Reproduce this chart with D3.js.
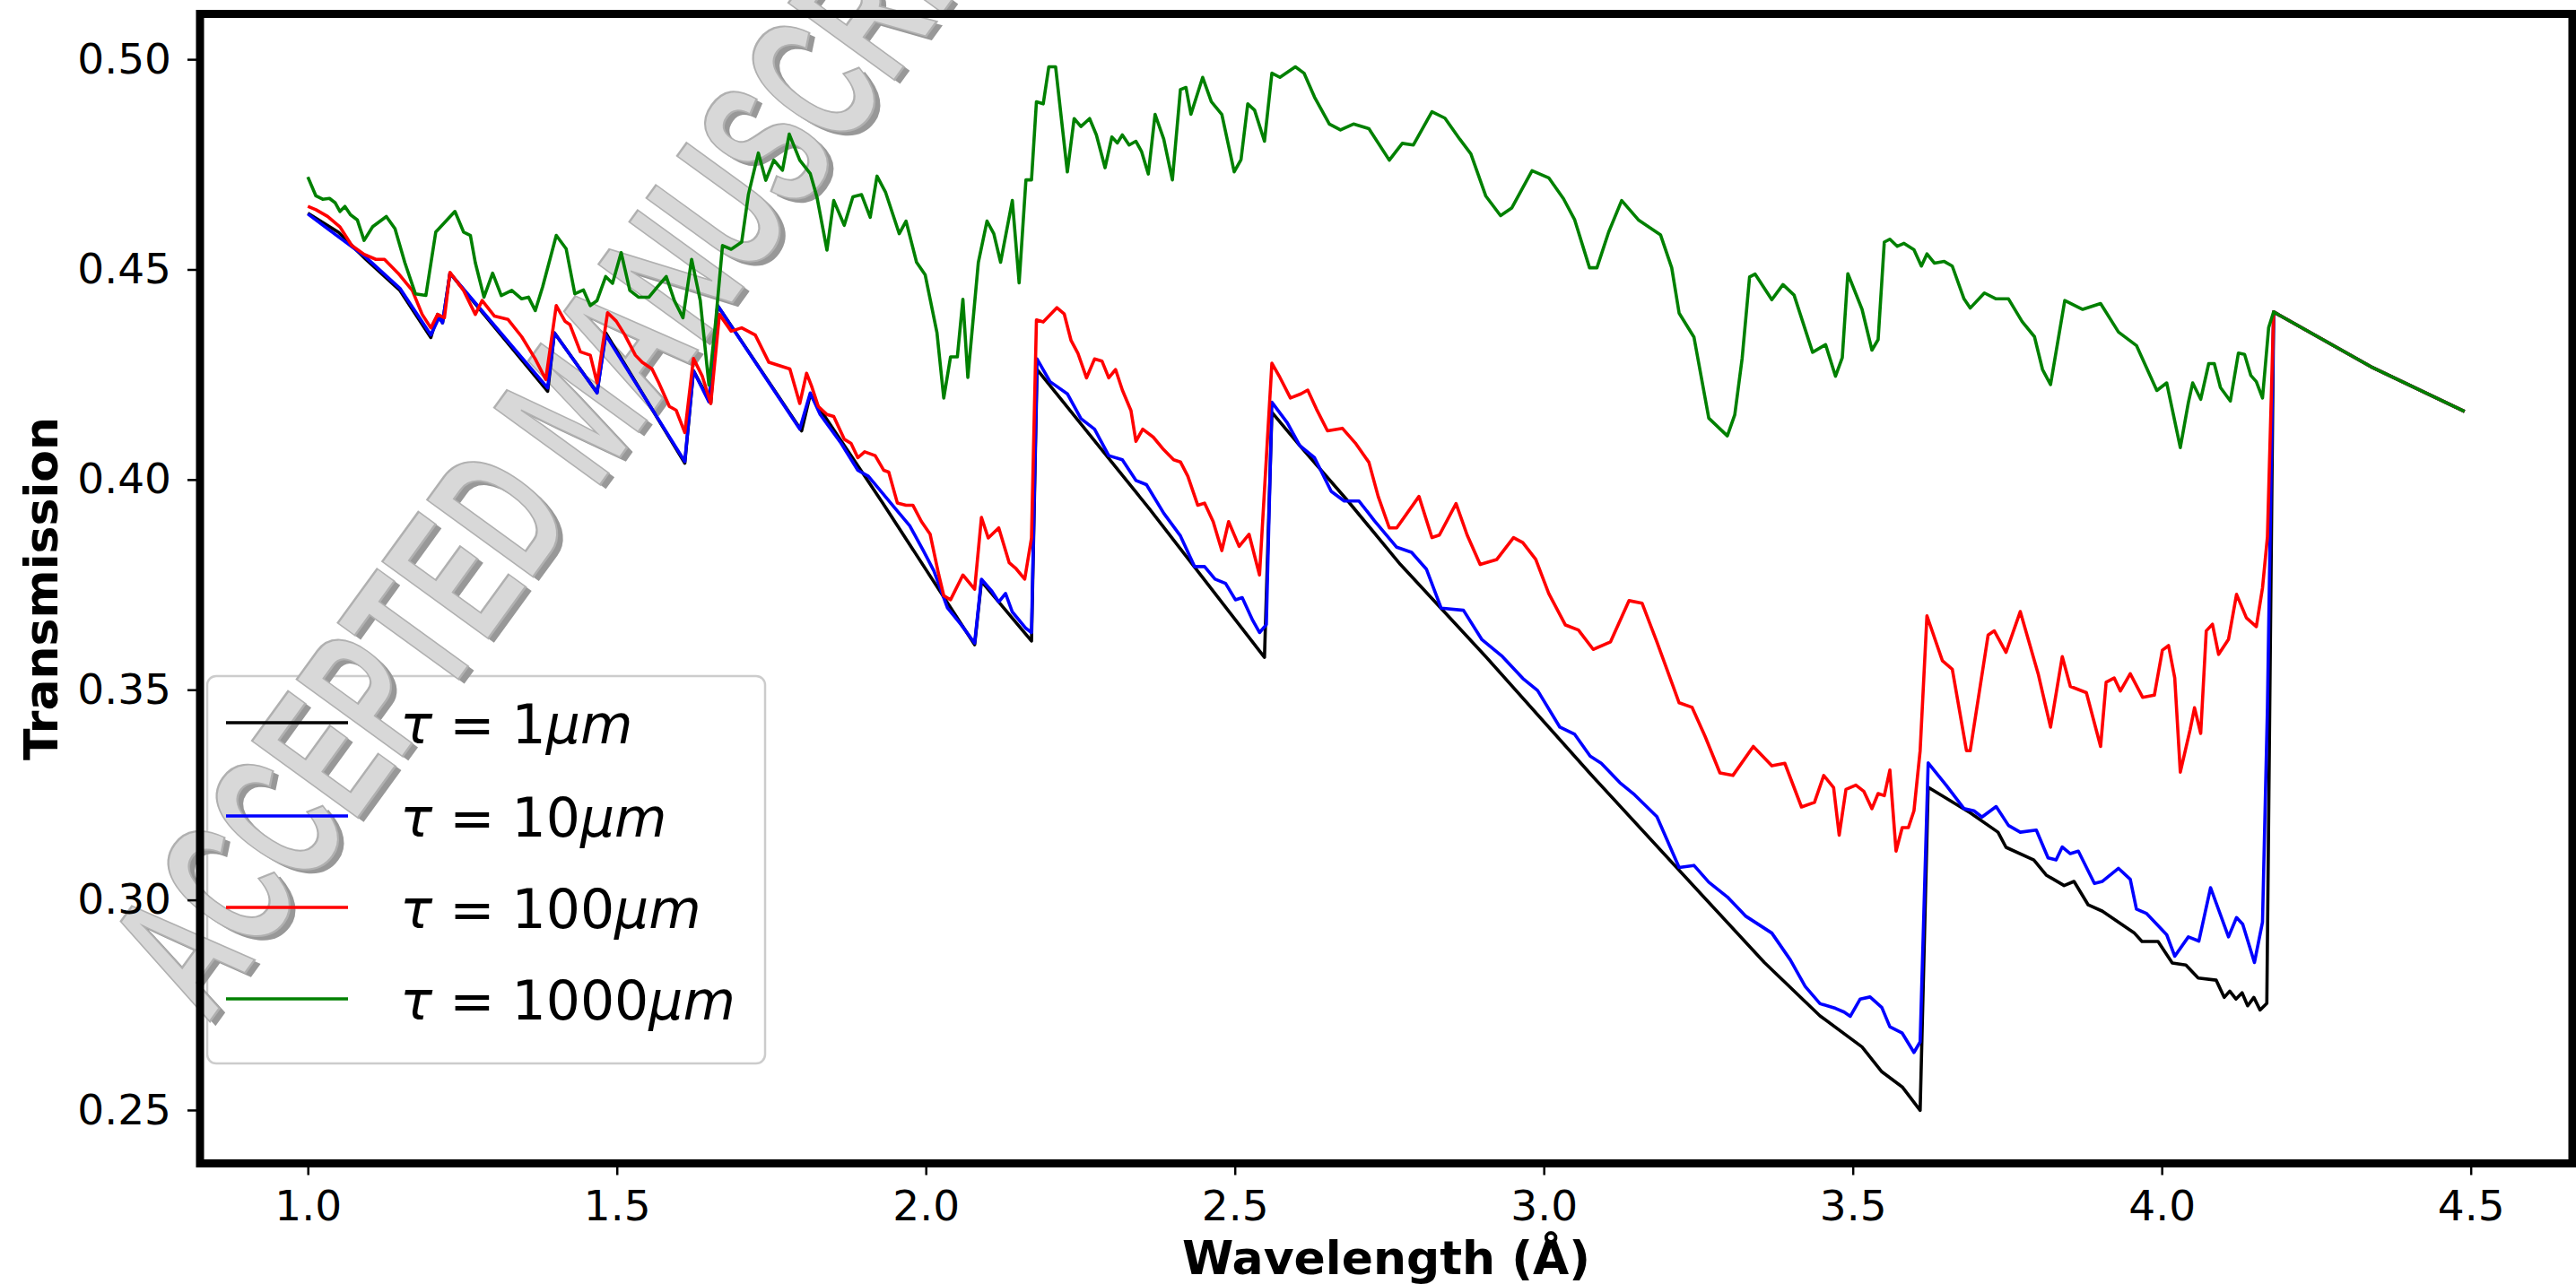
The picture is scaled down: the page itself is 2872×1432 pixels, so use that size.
<!DOCTYPE html>
<html>
<head>
<meta charset="utf-8">
<script src="https://cdn.jsdelivr.net/npm/d3@7"></script>
<style>
  body { margin: 0; background: #fff; }
  svg { display: block; }
</style>
</head>
<body>
<div id="chart"></div>
<script>
// [wavelength (A), transmission]
var tau1 = [
  [1.000,0.4634],[1.050,0.4588],[1.093,0.4525],[1.149,0.4450],[1.199,0.4338],[1.210,0.4393],[1.218,0.4373],
  [1.230,0.4491],[1.388,0.4210],[1.399,0.4349],[1.468,0.4207],[1.482,0.4349],[1.610,0.4039],[1.624,0.4259],
  [1.652,0.4182],[1.663,0.4414],[1.799,0.4116],[1.813,0.4202],[1.930,0.3945],[2.079,0.3607],[2.090,0.3758],
  [2.171,0.3616],[2.180,0.4262],[2.362,0.3930],[2.548,0.3577],[2.560,0.4160],[2.605,0.4081],[2.683,0.3949],
  [2.768,0.3798],[2.906,0.3579],[3.074,0.3302],[3.255,0.3013],[3.357,0.2851],[3.447,0.2724],[3.515,0.2650],
  [3.547,0.2591],[3.580,0.2555],[3.609,0.2499],[3.622,0.3268],[3.690,0.3207],[3.735,0.3161],[3.748,0.3125],
  [3.793,0.3095],[3.813,0.3059],[3.842,0.3034],[3.858,0.3044],[3.881,0.2988],[3.904,0.2973],[3.930,0.2947],
  [3.955,0.2922],[3.968,0.2901],[3.994,0.2901],[4.017,0.2850],[4.039,0.2845],[4.059,0.2814],[4.088,0.2809],
  [4.101,0.2768],[4.110,0.2783],[4.120,0.2764],[4.130,0.2779],[4.139,0.2748],[4.149,0.2768],[4.159,0.2738],
  [4.170,0.2754],[4.181,0.4399],[4.338,0.4269],[4.490,0.4162]
];

var tau10 = [
  [1.000,0.4632],[1.093,0.4530],[1.149,0.4455],[1.199,0.4344],[1.212,0.4385],[1.218,0.4373],[1.230,0.4491],
  [1.388,0.4218],[1.399,0.4349],[1.468,0.4206],[1.482,0.4344],[1.610,0.4043],[1.624,0.4259],[1.649,0.4185],
  [1.663,0.4414],[1.796,0.4120],[1.813,0.4206],[1.829,0.4155],[1.863,0.4086],[1.890,0.4022],[1.907,0.4008],
  [1.924,0.3978],[1.946,0.3939],[1.974,0.3890],[1.996,0.3831],[2.013,0.3783],[2.035,0.3695],[2.057,0.3655],
  [2.079,0.3611],[2.090,0.3763],[2.107,0.3734],[2.118,0.3709],[2.129,0.3729],[2.140,0.3685],[2.162,0.3646],
  [2.171,0.3636],[2.180,0.4287],[2.201,0.4233],[2.229,0.4204],[2.251,0.4145],[2.273,0.4120],[2.296,0.4057],
  [2.318,0.4047],[2.340,0.3998],[2.357,0.3988],[2.385,0.3920],[2.412,0.3866],[2.435,0.3793],[2.451,0.3793],
  [2.468,0.3763],[2.485,0.3753],[2.501,0.3714],[2.512,0.3719],[2.529,0.3665],[2.540,0.3636],[2.551,0.3655],
  [2.560,0.4184],[2.585,0.4135],[2.605,0.4081],[2.629,0.4052],[2.656,0.3972],[2.677,0.3949],[2.701,0.3949],
  [2.726,0.3902],[2.762,0.3839],[2.786,0.3827],[2.810,0.3787],[2.834,0.3694],[2.870,0.3689],[2.900,0.3619],
  [2.933,0.3579],[2.966,0.3527],[2.990,0.3498],[3.026,0.3411],[3.050,0.3394],[3.075,0.3342],[3.093,0.3325],
  [3.123,0.3279],[3.147,0.3250],[3.183,0.3198],[3.219,0.3077],[3.243,0.3082],[3.267,0.3042],[3.297,0.3007],
  [3.327,0.2961],[3.369,0.2921],[3.399,0.2857],[3.423,0.2794],[3.447,0.2753],[3.472,0.2742],[3.486,0.2733],
  [3.496,0.2723],[3.512,0.2764],[3.528,0.2769],[3.547,0.2744],[3.560,0.2698],[3.580,0.2683],[3.599,0.2637],
  [3.609,0.2662],[3.622,0.3326],[3.651,0.3273],[3.680,0.3217],[3.696,0.3212],[3.709,0.3197],[3.732,0.3222],
  [3.752,0.3177],[3.771,0.3161],[3.797,0.3166],[3.816,0.3100],[3.829,0.3095],[3.839,0.3126],[3.852,0.3110],
  [3.865,0.3116],[3.891,0.3039],[3.904,0.3044],[3.930,0.3075],[3.949,0.3049],[3.959,0.2978],[3.975,0.2968],
  [4.008,0.2917],[4.021,0.2866],[4.043,0.2912],[4.060,0.2902],[4.079,0.3029],[4.108,0.2912],[4.121,0.2958],
  [4.131,0.2942],[4.150,0.2851],[4.163,0.2947],[4.171,0.3457],[4.181,0.4399],[4.338,0.4269],[4.490,0.4162]
];

var tau100 = [
  [1.000,0.4650],[1.013,0.4642],[1.032,0.4626],[1.052,0.4601],[1.071,0.4557],[1.091,0.4536],[1.110,0.4524],
  [1.124,0.4524],[1.146,0.4491],[1.169,0.4450],[1.185,0.4393],[1.199,0.4361],[1.210,0.4393],[1.221,0.4385],
  [1.230,0.4493],[1.252,0.4450],[1.271,0.4393],[1.282,0.4426],[1.302,0.4389],[1.324,0.4381],[1.346,0.4340],
  [1.368,0.4287],[1.385,0.4238],[1.402,0.4414],[1.416,0.4377],[1.424,0.4369],[1.441,0.4304],[1.457,0.4296],
  [1.468,0.4230],[1.485,0.4397],[1.499,0.4377],[1.513,0.4344],[1.530,0.4296],[1.541,0.4279],[1.557,0.4263],
  [1.568,0.4230],[1.585,0.4174],[1.596,0.4165],[1.610,0.4112],[1.624,0.4288],[1.638,0.4247],[1.652,0.4181],
  [1.666,0.4393],[1.685,0.4353],[1.702,0.4361],[1.724,0.4344],[1.746,0.4279],[1.763,0.4271],[1.780,0.4263],
  [1.796,0.4181],[1.807,0.4253],[1.815,0.4223],[1.826,0.4174],[1.840,0.4155],[1.851,0.4150],[1.868,0.4096],
  [1.879,0.4086],[1.890,0.4052],[1.901,0.4066],[1.918,0.4057],[1.932,0.4022],[1.940,0.4018],[1.954,0.3944],
  [1.968,0.3939],[1.979,0.3939],[1.993,0.3900],[2.007,0.3870],[2.021,0.3773],[2.029,0.3724],[2.040,0.3714],
  [2.060,0.3773],[2.079,0.3739],[2.090,0.3910],[2.101,0.3861],[2.118,0.3885],[2.135,0.3802],[2.146,0.3788],
  [2.160,0.3763],[2.171,0.3861],[2.179,0.4380],[2.190,0.4375],[2.212,0.4409],[2.224,0.4394],[2.235,0.4331],
  [2.246,0.4301],[2.260,0.4242],[2.273,0.4287],[2.285,0.4282],[2.296,0.4242],[2.307,0.4262],[2.318,0.4213],
  [2.332,0.4164],[2.340,0.4091],[2.351,0.4120],[2.368,0.4101],[2.385,0.4071],[2.401,0.4047],[2.412,0.4042],
  [2.424,0.4008],[2.440,0.3939],[2.451,0.3944],[2.465,0.3900],[2.479,0.3831],[2.490,0.3900],[2.507,0.3841],
  [2.523,0.3870],[2.540,0.3773],[2.560,0.4277],[2.573,0.4243],[2.590,0.4194],[2.607,0.4204],[2.618,0.4213],
  [2.632,0.4168],[2.650,0.4116],[2.674,0.4122],[2.695,0.4087],[2.717,0.4041],[2.732,0.3960],[2.750,0.3885],
  [2.762,0.3885],[2.798,0.3960],[2.819,0.3862],[2.831,0.3868],[2.858,0.3943],[2.876,0.3868],[2.897,0.3798],
  [2.924,0.3810],[2.951,0.3862],[2.966,0.3850],[2.987,0.3810],[3.008,0.3729],[3.035,0.3654],[3.056,0.3642],
  [3.080,0.3596],[3.108,0.3614],[3.138,0.3712],[3.159,0.3706],[3.183,0.3614],[3.219,0.3469],[3.240,0.3458],
  [3.261,0.3389],[3.285,0.3302],[3.306,0.3296],[3.339,0.3365],[3.369,0.3319],[3.390,0.3325],[3.417,0.3221],
  [3.438,0.3232],[3.453,0.3296],[3.469,0.3267],[3.478,0.3154],[3.489,0.3263],[3.505,0.3273],[3.518,0.3258],
  [3.531,0.3217],[3.541,0.3253],[3.551,0.3248],[3.560,0.3309],[3.570,0.3116],[3.580,0.3172],[3.590,0.3172],
  [3.599,0.3212],[3.609,0.3355],[3.620,0.3676],[3.645,0.3569],[3.661,0.3549],[3.684,0.3355],[3.690,0.3355],
  [3.719,0.3630],[3.729,0.3640],[3.748,0.3589],[3.771,0.3686],[3.800,0.3538],[3.820,0.3411],[3.839,0.3579],
  [3.852,0.3508],[3.878,0.3493],[3.901,0.3365],[3.910,0.3518],[3.923,0.3528],[3.933,0.3497],[3.949,0.3538],
  [3.969,0.3482],[3.988,0.3487],[4.001,0.3594],[4.011,0.3605],[4.021,0.3528],[4.030,0.3304],[4.046,0.3406],
  [4.053,0.3457],[4.063,0.3396],[4.072,0.3640],[4.082,0.3656],[4.092,0.3584],[4.108,0.3620],[4.121,0.3727],
  [4.137,0.3671],[4.153,0.3650],[4.163,0.3742],[4.171,0.3864],[4.181,0.4399],[4.338,0.4269],[4.490,0.4162]
];

var tau1000 = [
  [1.000,0.4720],[1.013,0.4675],[1.024,0.4667],[1.035,0.4669],[1.044,0.4659],[1.052,0.4638],[1.060,0.4650],
  [1.069,0.4630],[1.080,0.4618],[1.091,0.4569],[1.105,0.4602],[1.127,0.4626],[1.141,0.4597],[1.157,0.4516],
  [1.174,0.4442],[1.191,0.4438],[1.207,0.4589],[1.238,0.4638],[1.252,0.4589],[1.263,0.4581],[1.271,0.4516],
  [1.285,0.4434],[1.299,0.4491],[1.313,0.4438],[1.330,0.4450],[1.346,0.4430],[1.357,0.4434],[1.368,0.4402],
  [1.380,0.4459],[1.402,0.4581],[1.418,0.4549],[1.432,0.4442],[1.446,0.4451],[1.457,0.4414],[1.468,0.4426],
  [1.482,0.4483],[1.493,0.4467],[1.507,0.4540],[1.521,0.4450],[1.535,0.4434],[1.552,0.4434],[1.566,0.4459],
  [1.580,0.4483],[1.593,0.4426],[1.607,0.4385],[1.621,0.4524],[1.635,0.4426],[1.649,0.4225],[1.660,0.4377],
  [1.671,0.4557],[1.685,0.4548],[1.702,0.4565],[1.713,0.4679],[1.729,0.4777],[1.741,0.4712],[1.754,0.4760],
  [1.768,0.4736],[1.779,0.4822],[1.796,0.4760],[1.813,0.4728],[1.824,0.4671],[1.840,0.4546],[1.851,0.4664],
  [1.868,0.4605],[1.882,0.4673],[1.896,0.4678],[1.910,0.4624],[1.921,0.4722],[1.935,0.4683],[1.957,0.4585],
  [1.968,0.4615],[1.985,0.4517],[1.999,0.4487],[2.018,0.4350],[2.029,0.4194],[2.040,0.4292],[2.051,0.4292],
  [2.060,0.4429],[2.068,0.4243],[2.085,0.4517],[2.099,0.4615],[2.110,0.4585],[2.121,0.4517],[2.140,0.4664],
  [2.151,0.4468],[2.162,0.4713],[2.171,0.4713],[2.179,0.4899],[2.190,0.4894],[2.199,0.4982],[2.210,0.4982],
  [2.229,0.4732],[2.240,0.4859],[2.251,0.4840],[2.265,0.4859],[2.276,0.4820],[2.290,0.4742],[2.301,0.4815],
  [2.310,0.4801],[2.318,0.4820],[2.329,0.4796],[2.340,0.4805],[2.349,0.4781],[2.360,0.4727],[2.371,0.4869],
  [2.385,0.4810],[2.399,0.4713],[2.412,0.4928],[2.421,0.4933],[2.429,0.4869],[2.448,0.4957],[2.462,0.4899],
  [2.479,0.4869],[2.499,0.4732],[2.510,0.4761],[2.521,0.4894],[2.532,0.4879],[2.548,0.4805],[2.560,0.4967],
  [2.573,0.4957],[2.598,0.4982],[2.612,0.4967],[2.629,0.4910],[2.653,0.4846],[2.671,0.4832],[2.692,0.4846],
  [2.717,0.4835],[2.750,0.4760],[2.771,0.4800],[2.789,0.4796],[2.819,0.4875],[2.840,0.4860],[2.864,0.4810],
  [2.882,0.4775],[2.906,0.4675],[2.930,0.4628],[2.948,0.4646],[2.981,0.4735],[3.008,0.4718],[3.032,0.4668],
  [3.050,0.4618],[3.074,0.4504],[3.086,0.4504],[3.105,0.4589],[3.126,0.4664],[3.153,0.4618],[3.189,0.4582],
  [3.207,0.4504],[3.219,0.4396],[3.243,0.4339],[3.267,0.4146],[3.297,0.4104],[3.309,0.4154],[3.321,0.4289],
  [3.333,0.4482],[3.342,0.4489],[3.369,0.4428],[3.387,0.4464],[3.405,0.4439],[3.435,0.4303],[3.456,0.4321],
  [3.472,0.4246],[3.483,0.4290],[3.492,0.4490],[3.515,0.4405],[3.531,0.4308],[3.541,0.4333],[3.551,0.4565],
  [3.560,0.4572],[3.572,0.4555],[3.583,0.4562],[3.599,0.4547],[3.611,0.4508],[3.620,0.4537],[3.632,0.4515],
  [3.648,0.4519],[3.661,0.4508],[3.680,0.4430],[3.690,0.4408],[3.713,0.4444],[3.732,0.4430],[3.752,0.4430],
  [3.774,0.4376],[3.794,0.4340],[3.807,0.4262],[3.820,0.4226],[3.843,0.4426],[3.872,0.4405],[3.901,0.4419],
  [3.930,0.4351],[3.959,0.4319],[3.992,0.4212],[4.008,0.4230],[4.030,0.4076],[4.043,0.4183],[4.050,0.4230],
  [4.063,0.4191],[4.076,0.4276],[4.085,0.4276],[4.095,0.4219],[4.111,0.4187],[4.124,0.4301],[4.134,0.4298],
  [4.144,0.4248],[4.153,0.4233],[4.163,0.4194],[4.173,0.4362],[4.181,0.4399],[4.338,0.4269],[4.490,0.4162]
];

var seriesData = [tau1, tau10, tau100, tau1000];
var seriesLabels = ["1", "10", "100", "1000"];
var seriesColors = ["#000000", "#0000ff", "#ff0000", "#008000"];
var xTicks = [1.0, 1.5, 2.0, 2.5, 3.0, 3.5, 4.0, 4.5];
var yTicks = [0.25, 0.30, 0.35, 0.40, 0.45, 0.50];

var width = 2872, height = 1432;
var plotLeft = 223, plotRight = 2868, plotTop = 15.5, plotBottom = 1297.5;

var svg = d3.select("#chart")
            .append("svg")
            .attr("width", width)
            .attr("height", height)
            .style("font-family", "'DejaVu Sans', sans-serif");

svg.append("rect").attr("width", width).attr("height", height).attr("fill", "#fff");

var xScale = d3.scaleLinear().domain([0.8255, 4.6645]).range([plotLeft, plotRight]);
var yScale = d3.scaleLinear().domain([0.2373, 0.5108]).range([plotBottom, plotTop]);

// legend frame first so the watermark shows over it
var legendBox = { x: 231, y: 754, w: 622, h: 432 };
svg.append("rect")
   .attr("x", legendBox.x).attr("y", legendBox.y)
   .attr("width", legendBox.w).attr("height", legendBox.h)
   .attr("rx", 10)
   .attr("fill", "#fff").attr("fill-opacity", 0.8)
   .attr("stroke", "#cccccc").attr("stroke-width", 2.5);

// watermark, runs off the top edge like in the source page
var wm = svg.append("g")
   .attr("transform", "translate(232,1142) rotate(-54) scale(0.6,1)")
   .style("font-family", "'Liberation Sans', Arial, sans-serif")
   .style("font-weight", "bold")
   .style("font-size", "212px");
wm.append("text").attr("x", 0).attr("y", 8)
  .attr("fill", "#989898").text("ACCEPTED MANUSCRIPT");
wm.append("text").attr("x", 0).attr("y", 0)
  .attr("fill", "#d8d8d8").attr("stroke", "#b0b0b0").attr("stroke-width", 2.5)
  .text("ACCEPTED MANUSCRIPT");

// lines
var line = d3.line()
   .x(function(d) { return xScale(d[0]); })
   .y(function(d) { return yScale(d[1]); });

svg.append("g").selectAll("path")
   .data(seriesData)
   .enter()
   .append("path")
   .attr("d", line)
   .attr("fill", "none")
   .attr("stroke", function(d, i) { return seriesColors[i]; })
   .attr("stroke-width", 3.6)
   .attr("stroke-linejoin", "round");

// axes
var xAxis = d3.axisBottom(xScale).tickValues(xTicks).tickFormat(d3.format(".1f"))
              .tickSize(13).tickPadding(17);
var yAxis = d3.axisLeft(yScale).tickValues(yTicks).tickFormat(d3.format(".2f"))
              .tickSize(14).tickPadding(18);

var gx = svg.append("g").attr("transform", "translate(0," + plotBottom + ")").call(xAxis);
var gy = svg.append("g").attr("transform", "translate(" + plotLeft + ",0)").call(yAxis);
[gx, gy].forEach(function(g) {
  g.select(".domain").remove();
  g.attr("font-family", "'DejaVu Sans', sans-serif").attr("font-size", 47);
  g.selectAll(".tick line").attr("stroke", "#000").attr("stroke-width", 2.5);
  g.selectAll(".tick text").attr("fill", "#000");
});

// spines
svg.append("rect")
   .attr("x", plotLeft).attr("y", plotTop)
   .attr("width", plotRight - plotLeft).attr("height", plotBottom - plotTop)
   .attr("fill", "none").attr("stroke", "#000").attr("stroke-width", 9);

svg.append("text")
   .attr("x", (plotLeft + plotRight) / 2).attr("y", 1421)
   .attr("text-anchor", "middle")
   .style("font-weight", "bold").style("font-size", "52px")
   .text("Wavelength (\u00c5)");

svg.append("text")
   .attr("transform", "translate(64," + (plotTop + plotBottom) / 2 + ") rotate(-90)")
   .attr("text-anchor", "middle")
   .style("font-weight", "bold").style("font-size", "52px")
   .text("Transmission");

// legend entries
var legendRows = [806, 910, 1012, 1114];
var legend = svg.append("g");
seriesLabels.forEach(function(lab, i) {
  var yy = legendRows[i];
  legend.append("line")
        .attr("x1", 252).attr("x2", 388).attr("y1", yy).attr("y2", yy)
        .attr("stroke", seriesColors[i]).attr("stroke-width", 3.6);
  var t = legend.append("text")
        .attr("x", 446).attr("y", yy + 23)
        .style("font-size", "60px");
  t.append("tspan").style("font-style", "italic").text("\u03c4");
  t.append("tspan").text(" = " + lab);
  t.append("tspan").style("font-style", "italic").text("\u03bcm");
});
</script>
</body>
</html>
